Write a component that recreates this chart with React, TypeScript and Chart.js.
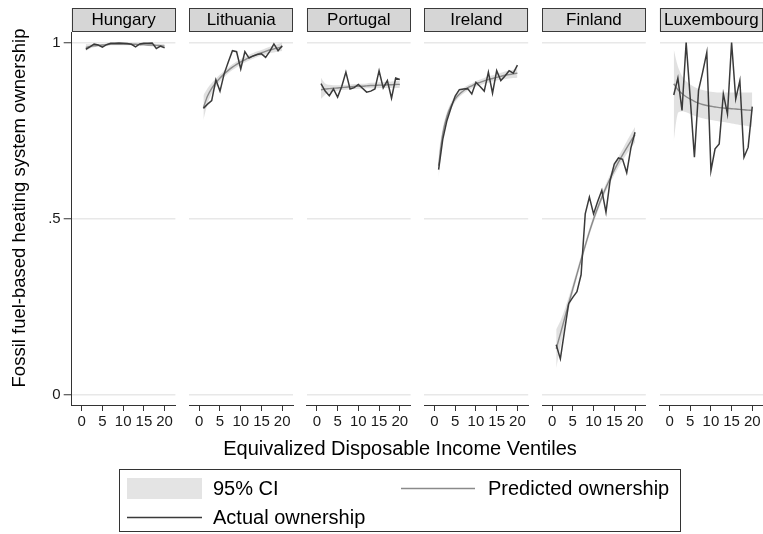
import React, { useEffect, useRef } from "react";
import { Chart, registerables } from "chart.js";

Chart.register(...registerables);

const W = 763;
const H = 534;
const FONT = '"Liberation Sans", Arial, Helvetica, sans-serif';

// ---------------- data ----------------
const ventiles = [1, 2, 3, 4, 5, 6, 7, 8, 9, 10, 11, 12, 13, 14, 15, 16, 17, 18, 19, 20];
const xTicks = [0, 5, 10, 15, 20];
const yTicks = [0, 0.5, 1];
const yTickLabels = ["0", ".5", "1"];
const countries = ["Hungary", "Lithuania", "Portugal", "Ireland", "Finland", "Luxembourg"];

const hungaryActual = [0.981, 0.988, 0.996, 0.993, 0.987, 0.994, 0.998, 0.998, 0.999, 0.998, 0.997, 0.995, 0.988, 0.996, 0.998, 0.998, 0.999, 0.983, 0.990, 0.985];
const hungaryPred = [0.986, 0.989, 0.991, 0.992, 0.993, 0.994, 0.995, 0.995, 0.995, 0.995, 0.995, 0.995, 0.995, 0.994, 0.994, 0.993, 0.993, 0.992, 0.991, 0.990];
const hungaryLo = [0.976, 0.983, 0.987, 0.989, 0.990, 0.991, 0.992, 0.992, 0.992, 0.992, 0.992, 0.992, 0.992, 0.991, 0.991, 0.990, 0.989, 0.988, 0.986, 0.984];
const hungaryHi = [0.996, 0.995, 0.995, 0.995, 0.996, 0.997, 0.998, 0.998, 0.998, 0.998, 0.998, 0.998, 0.998, 0.997, 0.997, 0.996, 0.997, 0.996, 0.996, 0.996];

const lithuaniaActual = [0.813, 0.825, 0.835, 0.894, 0.862, 0.911, 0.945, 0.977, 0.974, 0.925, 0.974, 0.956, 0.962, 0.966, 0.968, 0.958, 0.975, 0.996, 0.977, 0.991];
const lithuaniaPred = [0.815, 0.848, 0.870, 0.886, 0.899, 0.911, 0.921, 0.930, 0.938, 0.945, 0.951, 0.957, 0.962, 0.967, 0.971, 0.975, 0.979, 0.982, 0.985, 0.988];
const lithuaniaLo = [0.780, 0.826, 0.855, 0.874, 0.889, 0.902, 0.913, 0.922, 0.930, 0.937, 0.943, 0.949, 0.954, 0.959, 0.963, 0.966, 0.970, 0.972, 0.974, 0.976];
const lithuaniaHi = [0.850, 0.870, 0.885, 0.898, 0.909, 0.920, 0.929, 0.938, 0.946, 0.953, 0.959, 0.965, 0.970, 0.975, 0.979, 0.984, 0.988, 0.992, 0.996, 1.0];

const portugalActual = [0.883, 0.862, 0.849, 0.868, 0.845, 0.875, 0.916, 0.868, 0.872, 0.881, 0.870, 0.859, 0.862, 0.868, 0.920, 0.871, 0.892, 0.842, 0.899, 0.895];
const portugalPred = [0.866, 0.868, 0.869, 0.870, 0.871, 0.872, 0.873, 0.874, 0.875, 0.876, 0.876, 0.877, 0.878, 0.878, 0.879, 0.879, 0.880, 0.880, 0.881, 0.881];
const portugalLo = [0.840, 0.852, 0.858, 0.861, 0.863, 0.865, 0.866, 0.867, 0.868, 0.869, 0.869, 0.870, 0.870, 0.870, 0.871, 0.871, 0.871, 0.871, 0.871, 0.871];
const portugalHi = [0.900, 0.884, 0.880, 0.879, 0.879, 0.879, 0.880, 0.881, 0.882, 0.883, 0.883, 0.884, 0.886, 0.886, 0.887, 0.887, 0.889, 0.889, 0.891, 0.891];

const irelandActual = [0.639, 0.725, 0.778, 0.815, 0.848, 0.866, 0.868, 0.869, 0.854, 0.887, 0.875, 0.862, 0.916, 0.856, 0.920, 0.892, 0.905, 0.920, 0.913, 0.936];
const irelandPred = [0.650, 0.740, 0.790, 0.820, 0.840, 0.853, 0.863, 0.871, 0.877, 0.883, 0.887, 0.891, 0.895, 0.898, 0.901, 0.904, 0.907, 0.909, 0.911, 0.913];
const irelandLo = [0.615, 0.722, 0.778, 0.810, 0.831, 0.845, 0.855, 0.863, 0.870, 0.875, 0.879, 0.883, 0.886, 0.889, 0.892, 0.894, 0.896, 0.898, 0.899, 0.900];
const irelandHi = [0.685, 0.758, 0.802, 0.830, 0.849, 0.861, 0.871, 0.879, 0.884, 0.891, 0.895, 0.899, 0.904, 0.907, 0.910, 0.914, 0.918, 0.920, 0.923, 0.926];

const finlandActual = [0.141, 0.101, 0.180, 0.258, 0.276, 0.292, 0.340, 0.513, 0.561, 0.513, 0.548, 0.580, 0.518, 0.608, 0.655, 0.672, 0.668, 0.630, 0.700, 0.745];
const finlandPred = [0.130, 0.172, 0.215, 0.258, 0.300, 0.342, 0.383, 0.423, 0.462, 0.498, 0.530, 0.560, 0.588, 0.613, 0.637, 0.660, 0.681, 0.701, 0.720, 0.738];
const finlandLo = [0.075, 0.135, 0.190, 0.240, 0.286, 0.330, 0.372, 0.413, 0.452, 0.488, 0.520, 0.550, 0.577, 0.601, 0.624, 0.645, 0.665, 0.683, 0.700, 0.716];
const finlandHi = [0.185, 0.209, 0.240, 0.276, 0.314, 0.354, 0.394, 0.433, 0.472, 0.508, 0.540, 0.570, 0.599, 0.625, 0.650, 0.675, 0.697, 0.719, 0.740, 0.760];

const luxembourgActual = [0.851, 0.899, 0.807, 1.0, 0.840, 0.674, 0.864, 0.916, 0.972, 0.636, 0.698, 0.712, 0.854, 0.797, 1.0, 0.840, 0.892, 0.674, 0.702, 0.818];
const luxembourgPred = [0.883, 0.866, 0.855, 0.846, 0.839, 0.833, 0.828, 0.824, 0.821, 0.819, 0.817, 0.815, 0.814, 0.813, 0.812, 0.811, 0.810, 0.809, 0.808, 0.807];
const luxembourgLo = [0.720, 0.800, 0.805, 0.802, 0.797, 0.792, 0.788, 0.785, 0.782, 0.780, 0.778, 0.776, 0.774, 0.772, 0.770, 0.768, 0.766, 0.764, 0.762, 0.760];
const luxembourgHi = [0.980, 0.932, 0.905, 0.890, 0.881, 0.874, 0.869, 0.865, 0.862, 0.860, 0.859, 0.858, 0.858, 0.858, 0.858, 0.858, 0.858, 0.858, 0.858, 0.858];

const actualSeries = [hungaryActual, lithuaniaActual, portugalActual, irelandActual, finlandActual, luxembourgActual];
const predSeries = [hungaryPred, lithuaniaPred, portugalPred, irelandPred, finlandPred, luxembourgPred];
const loSeries = [hungaryLo, lithuaniaLo, portugalLo, irelandLo, finlandLo, luxembourgLo];
const hiSeries = [hungaryHi, lithuaniaHi, portugalHi, irelandHi, finlandHi, luxembourgHi];

const yTitle = "Fossil fuel-based heating system ownership";
const xTitle = "Equivalized Disposable Income Ventiles";
const legendLabels = ["95% CI", "Predicted ownership", "Actual ownership"];

// ---------------- layout / style ----------------
const PANEL_LEFT0 = 71.7;
const PANEL_PITCH = 117.6;
const PANEL_W = 103.7;
const PLOT_TOP = 32;
const PLOT_BOTTOM = 405;

const ACTUAL_COLOR = "#3a3a3a";
const PRED_COLOR = "#8a8a8a";
const CI_COLOR = "rgba(200,200,200,0.55)";
const AXIS_COLOR = "#333333";
const GRID_COLOR = "#e8e8e8";

const pts = (arr: number[]) => ventiles.map((v, k) => ({ x: v, y: arr[k] }));

function makeHeaderPlugin(name: string) {
  return {
    id: "panelHeader",
    afterDraw(chart: any) {
      const { ctx, chartArea } = chart;
      const x = chartArea.left;
      const w = chartArea.right - chartArea.left;
      ctx.save();
      ctx.fillStyle = "#d6d6d6";
      ctx.fillRect(x, 8, w, 23.5);
      ctx.strokeStyle = "#3a3a3a";
      ctx.lineWidth = 1;
      ctx.strokeRect(Math.round(x) + 0.5, 8.5, Math.round(w) - 1, 23);
      ctx.fillStyle = "#000";
      ctx.font = `17px ${FONT}`;
      ctx.textAlign = "center";
      ctx.textBaseline = "middle";
      ctx.fillText(name, x + w / 2, 20.5);
      ctx.restore();
    },
  };
}

const decorPlugin = {
  id: "decor",
  afterDraw(chart: any) {
    const { ctx } = chart;
    ctx.save();
    // y title
    ctx.fillStyle = "#000";
    ctx.font = `18.5px ${FONT}`;
    ctx.textAlign = "center";
    ctx.textBaseline = "middle";
    ctx.translate(20, 208);
    ctx.rotate(-Math.PI / 2);
    ctx.fillText(yTitle, 0, 0);
    ctx.restore();

    ctx.save();
    ctx.fillStyle = "#000";
    ctx.font = `20px ${FONT}`;
    ctx.textAlign = "center";
    ctx.textBaseline = "middle";
    ctx.fillText(xTitle, 400, 449);

    // legend box
    ctx.strokeStyle = "#333";
    ctx.lineWidth = 1;
    ctx.strokeRect(119.5, 469.5, 561, 62);
    // CI swatch
    ctx.fillStyle = "#e4e4e4";
    ctx.fillRect(127, 478, 75, 21);
    // predicted line
    ctx.strokeStyle = PRED_COLOR;
    ctx.lineWidth = 1.4;
    ctx.beginPath();
    ctx.moveTo(401, 488.5);
    ctx.lineTo(475, 488.5);
    ctx.stroke();
    // actual line
    ctx.strokeStyle = ACTUAL_COLOR;
    ctx.beginPath();
    ctx.moveTo(127, 517.5);
    ctx.lineTo(202, 517.5);
    ctx.stroke();

    ctx.fillStyle = "#000";
    ctx.font = `20px ${FONT}`;
    ctx.textAlign = "left";
    ctx.textBaseline = "middle";
    ctx.fillText(legendLabels[0], 213, 489);
    ctx.fillText(legendLabels[1], 488, 489);
    ctx.fillText(legendLabels[2], 213, 518);
    ctx.restore();
  },
};

function makeConfig(i: number): any {
  const left = PANEL_LEFT0 + i * PANEL_PITCH;
  const right = Math.min(left + PANEL_W, W);
  const first = i === 0;
  const plugins: any[] = [makeHeaderPlugin(countries[i])];
  if (first) plugins.push(decorPlugin);
  return {
    type: "line",
    data: {
      datasets: [
        {
          label: "Actual ownership",
          data: pts(actualSeries[i]),
          borderColor: ACTUAL_COLOR,
          borderWidth: 1.5,
          pointRadius: 0,
          tension: 0,
          fill: false,
        },
        {
          label: "Predicted ownership",
          data: pts(predSeries[i]),
          borderColor: PRED_COLOR,
          borderWidth: 1.4,
          pointRadius: 0,
          tension: 0.3,
          fill: false,
        },
        {
          label: "95% CI upper",
          data: pts(hiSeries[i]),
          borderWidth: 0,
          borderColor: "rgba(0,0,0,0)",
          backgroundColor: CI_COLOR,
          pointRadius: 0,
          tension: 0.3,
          fill: "+1",
        },
        {
          label: "95% CI lower",
          data: pts(loSeries[i]),
          borderWidth: 0,
          borderColor: "rgba(0,0,0,0)",
          pointRadius: 0,
          tension: 0.3,
          fill: false,
        },
      ],
    },
    options: {
      responsive: false,
      animation: false,
      events: [],
      layout: {
        autoPadding: false,
        padding: { left: 0, right: W - right, top: PLOT_TOP, bottom: 0 },
      },
      plugins: {
        legend: { display: false },
        title: { display: false },
        tooltip: { enabled: false },
      },
      scales: {
        x: {
          type: "linear",
          min: -2.4,
          max: 22.6,
          afterBuildTicks: (s: any) => {
            s.ticks = xTicks.map((v) => ({ value: v }));
          },
          afterFit: (s: any) => {
            s.height = H - PLOT_BOTTOM;
          },
          ticks: {
            autoSkip: false,
            maxRotation: 0,
            minRotation: 0,
            padding: 2,
            color: "#1a1a1a",
            font: { family: FONT, size: 15 },
            callback: (v: any) => String(v),
          },
          grid: {
            drawOnChartArea: false,
            drawTicks: true,
            tickLength: 6,
            tickColor: AXIS_COLOR,
            tickWidth: 1,
            color: AXIS_COLOR,
          },
          border: { display: true, color: AXIS_COLOR, width: 1 },
        },
        y: {
          type: "linear",
          min: -0.03,
          max: 1.03,
          afterBuildTicks: (s: any) => {
            s.ticks = yTicks.map((v) => ({ value: v }));
          },
          afterFit: (s: any) => {
            s.width = left;
          },
          ticks: {
            display: first,
            padding: 3,
            color: "#1a1a1a",
            font: { family: FONT, size: 15 },
            callback: (v: any) => {
              const k = yTicks.indexOf(Number(v));
              return k >= 0 ? yTickLabels[k] : "";
            },
          },
          grid: {
            color: GRID_COLOR,
            lineWidth: 1.5,
            drawTicks: first,
            tickLength: 8,
            tickColor: AXIS_COLOR,
            tickWidth: 1,
          },
          border: { display: first, color: AXIS_COLOR, width: 1 },
        },
      },
    },
    plugins,
  };
}

function Panel({ index }: { index: number }) {
  const ref = useRef<HTMLCanvasElement | null>(null);
  useEffect(() => {
    if (!ref.current) return;
    const chart = new Chart(ref.current, makeConfig(index));
    return () => chart.destroy();
  }, [index]);
  return (
    <canvas
      ref={ref}
      width={W}
      height={H}
      style={{ position: "absolute", left: 0, top: 0, width: W, height: H }}
    />
  );
}

export default function App() {
  return (
    <div
      style={{
        position: "absolute",
        left: 0,
        top: 0,
        width: W,
        height: H,
        background: "#ffffff",
        overflow: "hidden",
      }}
    >
      {countries.map((c, i) => (
        <Panel key={c} index={i} />
      ))}
    </div>
  );
}
